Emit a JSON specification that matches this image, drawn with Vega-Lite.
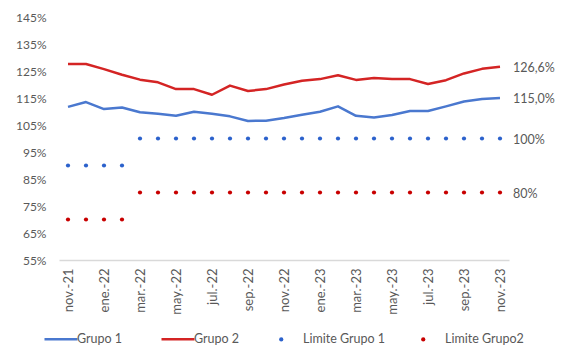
{
  "$schema": "https://vega.github.io/schema/vega-lite/v6.json",
  "width": 450,
  "height": 243,
  "autosize": {"type": "none"},
  "padding": {"left": 59, "top": 17, "right": 52, "bottom": 89},
  "background": "white",
  "config": {
    "locale": {"number": {"decimal": ",", "thousands": ".", "grouping": [3], "currency": ["", " €"]}},
    "font": "Lato",
    "view": {"stroke": null},
    "axis": {"labelFont": "Lato", "labelColor": "#595959", "labelFontSize": 12, "grid": false, "ticks": false, "domain": false, "title": null},
    "legend": {"labelFont": "Lato", "labelFontSize": 12.5, "labelColor": "#595959", "title": null, "orient": "none", "direction": "horizontal"}
  },
  "data": {
    "values": [
      {"mes": "nov.-21", "serie": "Grupo 1", "valor": 1.117},
      {"mes": "dic.-21", "serie": "Grupo 1", "valor": 1.135},
      {"mes": "ene.-22", "serie": "Grupo 1", "valor": 1.109},
      {"mes": "feb.-22", "serie": "Grupo 1", "valor": 1.115},
      {"mes": "mar.-22", "serie": "Grupo 1", "valor": 1.097},
      {"mes": "abr.-22", "serie": "Grupo 1", "valor": 1.092},
      {"mes": "may.-22", "serie": "Grupo 1", "valor": 1.084},
      {"mes": "jun.-22", "serie": "Grupo 1", "valor": 1.099},
      {"mes": "jul.-22", "serie": "Grupo 1", "valor": 1.092},
      {"mes": "ago.-22", "serie": "Grupo 1", "valor": 1.082},
      {"mes": "sep.-22", "serie": "Grupo 1", "valor": 1.065},
      {"mes": "oct.-22", "serie": "Grupo 1", "valor": 1.066},
      {"mes": "nov.-22", "serie": "Grupo 1", "valor": 1.076},
      {"mes": "dic.-22", "serie": "Grupo 1", "valor": 1.088},
      {"mes": "ene.-23", "serie": "Grupo 1", "valor": 1.099},
      {"mes": "feb.-23", "serie": "Grupo 1", "valor": 1.119},
      {"mes": "mar.-23", "serie": "Grupo 1", "valor": 1.084},
      {"mes": "abr.-23", "serie": "Grupo 1", "valor": 1.078},
      {"mes": "may.-23", "serie": "Grupo 1", "valor": 1.087},
      {"mes": "jun.-23", "serie": "Grupo 1", "valor": 1.102},
      {"mes": "jul.-23", "serie": "Grupo 1", "valor": 1.102},
      {"mes": "ago.-23", "serie": "Grupo 1", "valor": 1.119},
      {"mes": "sep.-23", "serie": "Grupo 1", "valor": 1.137},
      {"mes": "oct.-23", "serie": "Grupo 1", "valor": 1.146},
      {"mes": "nov.-23", "serie": "Grupo 1", "valor": 1.150},

      {"mes": "nov.-21", "serie": "Grupo 2", "valor": 1.276},
      {"mes": "dic.-21", "serie": "Grupo 2", "valor": 1.276},
      {"mes": "ene.-22", "serie": "Grupo 2", "valor": 1.257},
      {"mes": "feb.-22", "serie": "Grupo 2", "valor": 1.236},
      {"mes": "mar.-22", "serie": "Grupo 2", "valor": 1.218},
      {"mes": "abr.-22", "serie": "Grupo 2", "valor": 1.208},
      {"mes": "may.-22", "serie": "Grupo 2", "valor": 1.183},
      {"mes": "jun.-22", "serie": "Grupo 2", "valor": 1.183},
      {"mes": "jul.-22", "serie": "Grupo 2", "valor": 1.162},
      {"mes": "ago.-22", "serie": "Grupo 2", "valor": 1.196},
      {"mes": "sep.-22", "serie": "Grupo 2", "valor": 1.176},
      {"mes": "oct.-22", "serie": "Grupo 2", "valor": 1.183},
      {"mes": "nov.-22", "serie": "Grupo 2", "valor": 1.200},
      {"mes": "dic.-22", "serie": "Grupo 2", "valor": 1.214},
      {"mes": "ene.-23", "serie": "Grupo 2", "valor": 1.220},
      {"mes": "feb.-23", "serie": "Grupo 2", "valor": 1.234},
      {"mes": "mar.-23", "serie": "Grupo 2", "valor": 1.217},
      {"mes": "abr.-23", "serie": "Grupo 2", "valor": 1.224},
      {"mes": "may.-23", "serie": "Grupo 2", "valor": 1.220},
      {"mes": "jun.-23", "serie": "Grupo 2", "valor": 1.220},
      {"mes": "jul.-23", "serie": "Grupo 2", "valor": 1.202},
      {"mes": "ago.-23", "serie": "Grupo 2", "valor": 1.216},
      {"mes": "sep.-23", "serie": "Grupo 2", "valor": 1.241},
      {"mes": "oct.-23", "serie": "Grupo 2", "valor": 1.258},
      {"mes": "nov.-23", "serie": "Grupo 2", "valor": 1.266},

      {"mes": "nov.-21", "serie": "Limite Grupo 1", "valor": 0.90},
      {"mes": "dic.-21", "serie": "Limite Grupo 1", "valor": 0.90},
      {"mes": "ene.-22", "serie": "Limite Grupo 1", "valor": 0.90},
      {"mes": "feb.-22", "serie": "Limite Grupo 1", "valor": 0.90},
      {"mes": "mar.-22", "serie": "Limite Grupo 1", "valor": 1.00},
      {"mes": "abr.-22", "serie": "Limite Grupo 1", "valor": 1.00},
      {"mes": "may.-22", "serie": "Limite Grupo 1", "valor": 1.00},
      {"mes": "jun.-22", "serie": "Limite Grupo 1", "valor": 1.00},
      {"mes": "jul.-22", "serie": "Limite Grupo 1", "valor": 1.00},
      {"mes": "ago.-22", "serie": "Limite Grupo 1", "valor": 1.00},
      {"mes": "sep.-22", "serie": "Limite Grupo 1", "valor": 1.00},
      {"mes": "oct.-22", "serie": "Limite Grupo 1", "valor": 1.00},
      {"mes": "nov.-22", "serie": "Limite Grupo 1", "valor": 1.00},
      {"mes": "dic.-22", "serie": "Limite Grupo 1", "valor": 1.00},
      {"mes": "ene.-23", "serie": "Limite Grupo 1", "valor": 1.00},
      {"mes": "feb.-23", "serie": "Limite Grupo 1", "valor": 1.00},
      {"mes": "mar.-23", "serie": "Limite Grupo 1", "valor": 1.00},
      {"mes": "abr.-23", "serie": "Limite Grupo 1", "valor": 1.00},
      {"mes": "may.-23", "serie": "Limite Grupo 1", "valor": 1.00},
      {"mes": "jun.-23", "serie": "Limite Grupo 1", "valor": 1.00},
      {"mes": "jul.-23", "serie": "Limite Grupo 1", "valor": 1.00},
      {"mes": "ago.-23", "serie": "Limite Grupo 1", "valor": 1.00},
      {"mes": "sep.-23", "serie": "Limite Grupo 1", "valor": 1.00},
      {"mes": "oct.-23", "serie": "Limite Grupo 1", "valor": 1.00},
      {"mes": "nov.-23", "serie": "Limite Grupo 1", "valor": 1.00},

      {"mes": "nov.-21", "serie": "Limite Grupo2", "valor": 0.70},
      {"mes": "dic.-21", "serie": "Limite Grupo2", "valor": 0.70},
      {"mes": "ene.-22", "serie": "Limite Grupo2", "valor": 0.70},
      {"mes": "feb.-22", "serie": "Limite Grupo2", "valor": 0.70},
      {"mes": "mar.-22", "serie": "Limite Grupo2", "valor": 0.80},
      {"mes": "abr.-22", "serie": "Limite Grupo2", "valor": 0.80},
      {"mes": "may.-22", "serie": "Limite Grupo2", "valor": 0.80},
      {"mes": "jun.-22", "serie": "Limite Grupo2", "valor": 0.80},
      {"mes": "jul.-22", "serie": "Limite Grupo2", "valor": 0.80},
      {"mes": "ago.-22", "serie": "Limite Grupo2", "valor": 0.80},
      {"mes": "sep.-22", "serie": "Limite Grupo2", "valor": 0.80},
      {"mes": "oct.-22", "serie": "Limite Grupo2", "valor": 0.80},
      {"mes": "nov.-22", "serie": "Limite Grupo2", "valor": 0.80},
      {"mes": "dic.-22", "serie": "Limite Grupo2", "valor": 0.80},
      {"mes": "ene.-23", "serie": "Limite Grupo2", "valor": 0.80},
      {"mes": "feb.-23", "serie": "Limite Grupo2", "valor": 0.80},
      {"mes": "mar.-23", "serie": "Limite Grupo2", "valor": 0.80},
      {"mes": "abr.-23", "serie": "Limite Grupo2", "valor": 0.80},
      {"mes": "may.-23", "serie": "Limite Grupo2", "valor": 0.80},
      {"mes": "jun.-23", "serie": "Limite Grupo2", "valor": 0.80},
      {"mes": "jul.-23", "serie": "Limite Grupo2", "valor": 0.80},
      {"mes": "ago.-23", "serie": "Limite Grupo2", "valor": 0.80},
      {"mes": "sep.-23", "serie": "Limite Grupo2", "valor": 0.80},
      {"mes": "oct.-23", "serie": "Limite Grupo2", "valor": 0.80},
      {"mes": "nov.-23", "serie": "Limite Grupo2", "valor": 0.80}
    ]
  },
  "resolve": {"scale": {"color": "independent"}},
  "encoding": {
    "x": {
      "field": "mes",
      "type": "ordinal",
      "sort": null,
      "axis": {
        "domain": true,
        "domainColor": "#D9D9D9",
        "domainWidth": 1.5,
        "labelAngle": -90,
        "labelPadding": 8,
        "labelFontSize": 13,
        "values": ["nov.-21", "ene.-22", "mar.-22", "may.-22", "jul.-22", "sep.-22", "nov.-22", "ene.-23", "mar.-23", "may.-23", "jul.-23", "sep.-23", "nov.-23"]
      }
    },
    "y": {
      "field": "valor",
      "type": "quantitative",
      "scale": {"domain": [0.55, 1.45], "nice": false, "zero": false},
      "axis": {
        "values": [0.55, 0.65, 0.75, 0.85, 0.95, 1.05, 1.15, 1.25, 1.35, 1.45],
        "format": ".0%",
        "labelPadding": 13
      }
    }
  },
  "layer": [
    {
      "transform": [{"filter": "datum.serie === 'Grupo 1' || datum.serie === 'Grupo 2'"}],
      "mark": {"type": "line", "strokeWidth": 2.5, "strokeJoin": "round"},
      "encoding": {
        "color": {
          "field": "serie",
          "type": "nominal",
          "scale": {"domain": ["Grupo 1", "Grupo 2"], "range": ["#4A78CF", "#D42424"]},
          "legend": {
            "legendX": -16,
            "legendY": 304,
            "symbolType": "stroke",
            "symbolSize": 1090,
            "symbolStrokeWidth": 2.5,
            "labelOffset": -2,
            "columnPadding": 33
          }
        }
      }
    },
    {
      "transform": [{"filter": "datum.serie === 'Limite Grupo 1' || datum.serie === 'Limite Grupo2'"}],
      "mark": {"type": "point", "filled": true, "size": 18, "opacity": 1},
      "encoding": {
        "color": {
          "field": "serie",
          "type": "nominal",
          "scale": {"domain": ["Limite Grupo 1", "Limite Grupo2"], "range": ["#2C62CC", "#C80000"]},
          "legend": {
            "legendX": 216,
            "legendY": 316,
            "symbolType": "circle",
            "symbolSize": 18,
            "symbolStrokeWidth": 0,
            "symbolOpacity": 1,
            "labelOffset": 15.5,
            "columnPadding": 31
          }
        }
      }
    },
    {
      "transform": [{"filter": "datum.mes === 'nov.-23' && (datum.serie === 'Grupo 1' || datum.serie === 'Grupo 2')"}],
      "mark": {"type": "text", "align": "left", "baseline": "middle", "dx": 13, "dy": 1, "fontSize": 12.5, "color": "#595959", "font": "Lato"},
      "encoding": {
        "text": {"field": "valor", "type": "quantitative", "format": ".1%"}
      }
    },
    {
      "transform": [{"filter": "datum.mes === 'nov.-23' && (datum.serie === 'Limite Grupo 1' || datum.serie === 'Limite Grupo2')"}],
      "mark": {"type": "text", "align": "left", "baseline": "middle", "dx": 13, "dy": 1, "fontSize": 12.5, "color": "#595959", "font": "Lato"},
      "encoding": {
        "text": {"field": "valor", "type": "quantitative", "format": ".0%"}
      }
    }
  ]
}
